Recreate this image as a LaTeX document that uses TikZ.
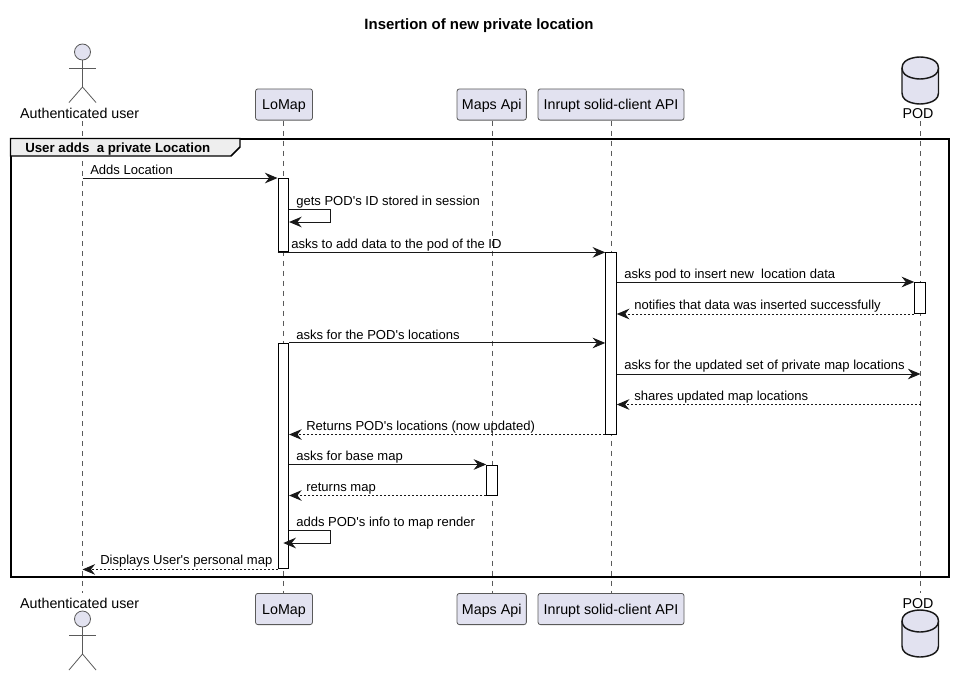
\documentclass[tikz,border=0pt]{standalone}
\usepackage{fontspec}
\setmainfont{Liberation Sans}
\newfontfamily\plainsans{Liberation Sans}
\usetikzlibrary{arrows.meta,shapes.geometric}
\definecolor{partfill}{HTML}{E2E2F0}
\definecolor{partline}{HTML}{5A5A5A}
\definecolor{inkline}{HTML}{181818}
\definecolor{tabfill}{HTML}{EEEEEE}
\tikzset{
  x=0.75pt,y=-0.75pt,
  part/.style={draw=partline,fill=partfill,rounded corners=1.8pt,line width=0.6pt,minimum height=23.4pt,inner sep=0pt,font=\fontsize{10.7pt}{12pt}\selectfont,text=black,text depth=0pt,text height=7.7pt},
  actorlabel/.style={inner sep=0pt,font=\fontsize{10.7pt}{12pt}\selectfont,text=black,text depth=0pt,text height=7.7pt},
  msg/.style={anchor=west,inner sep=0pt,font=\plainsans\fontsize{9.78pt}{11pt}\selectfont,text=black,text depth=0pt,text height=7pt},
  life/.style={draw=partline,line width=0.45pt,dash pattern=on 3.75pt off 3.75pt},
  act/.style={draw=black,fill=white,line width=0.75pt,inner sep=0pt,minimum width=7.9pt},
  sync/.style={draw=inkline,line width=0.75pt,-{Stealth[length=9.5pt,width=8pt,inset=3.2pt]}},
  reply/.style={sync,dash pattern=on 1.5pt off 1.5pt},
  actorline/.style={draw=partline,line width=0.6pt},
  actorhead/.style={draw=partline,fill=partfill,line width=0.6pt},
  cyl/.style={draw=inkline,fill=partfill,line width=1.1pt},
  framebox/.style={draw=black,line width=1.5pt},
  tabbox/.style={draw=black,fill=tabfill,line width=1.1pt},
}
\begin{document}
\begin{tikzpicture}
\useasboundingbox (0,0) rectangle (954,675);
% title
\node[inner sep=0pt,font=\fontsize{11.2pt}{12pt}\selectfont\bfseries] (title) at (479,25.5) {Insertion of new private location};

% participants
\node[actorlabel] (userT) at (79.7,113) {Authenticated user};
\node[actorlabel] (userB) at (79.7,603) {Authenticated user};
\node[part,minimum width=42.75pt] (lomapT) at (284,104.5) {LoMap};
\node[part,minimum width=42.75pt] (lomapB) at (284,609) {LoMap};
\node[part,minimum width=52pt] (mapsT) at (491.7,104.5) {Maps Api};
\node[part,minimum width=52pt] (mapsB) at (491.7,609) {Maps Api};
\node[part,minimum width=109.5pt] (inruptT) at (611,104.5) {Inrupt solid-client API};
\node[part,minimum width=109.5pt] (inruptB) at (611,609) {Inrupt solid-client API};
\node[actorlabel] (podT) at (918,113) {POD};
\node[actorlabel] (podB) at (918,603) {POD};

% lifelines
\draw[life] (82.5,121) -- (82.5,593);
\draw[life] (lomapT.south -| 283.5,0) -- (lomapB.north -| 283.5,0);
\draw[life] (mapsT.south -| 492,0) -- (mapsB.north -| 492,0);
\draw[life] (inruptT.south -| 611.5,0) -- (inruptB.north -| 611.5,0);
\draw[life] (920.5,121) -- (920.5,593);

% frame
\draw[framebox] (10.5,138.5) rectangle (948.5,577);
\draw[tabbox] (10.5,138.5) -- (240,138.5) -- (240,147) -- (231,156) -- (10.5,156) -- cycle;
\node[anchor=west,inner sep=0pt,font=\fontsize{9.95pt}{11pt}\selectfont\bfseries,text depth=0pt,text height=7pt] (group) at (25,148) {User adds\ \ a private Location};

% actors
\foreach \h/\a/\hh/\f in {52/68/87/102.5,619/635/654/670}{
  \draw[actorhead] (82.5,\h) circle[radius=8];
  \draw[actorline] (82.5,\h+8) -- (82.5,\hh);
  \draw[actorline] (69,\a) -- (96,\a);
  \draw[actorline] (69,\f) -- (82.5,\hh) -- (96,\f);
}
% databases
\foreach \t in {57,610}{
  \draw[cyl] (902,\t+11) .. controls (902,\t) and (920,\t) .. (920,\t) .. controls (920,\t) and (938.5,\t) .. (938.5,\t+11)
    -- (938.5,\t+36) .. controls (938.5,\t+47) and (920,\t+47) .. (920,\t+47) .. controls (920,\t+47) and (902,\t+47) .. (902,\t+36) -- cycle;
  \draw[cyl] (902,\t+11) .. controls (902,\t+22) and (920,\t+22) .. (920,\t+22) .. controls (920,\t+22) and (938.5,\t+22) .. (938.5,\t+11);
}

% activations
\node[act,minimum height=55pt] (actL1) at (283.3,215.2) {};
\node[act,minimum height=169.1pt] (actL2) at (283.3,456.2) {};
\node[act,minimum height=136.5pt] (actI) at (611,343) {};
\node[act,minimum height=23.25pt] (actP) at (920,298) {};
\node[act,minimum height=22.5pt] (actM) at (492,480) {};

% message end points
\coordinate (m1a) at (actL1.north -| 82.5,0);
\coordinate (m2a) at (actL1.east |- 0,209);
\coordinate (m2b) at (330,209);
\coordinate (m2c) at (330,222);
\coordinate (m2d) at (actL1.east |- 0,222);
\coordinate (m7a) at (actI.east |- 0,374);
\coordinate (m7b) at (920.5,374);
\coordinate (m8a) at (920.5,404.5);
\coordinate (m8b) at (actI.east |- 0,404.5);
\coordinate (m12a) at (actL2.east |- 0,530);
\coordinate (m12b) at (330,530);
\coordinate (m12c) at (330,543);
\coordinate (m12d) at (actL2.center |- 0,543);
\coordinate (m13b) at (actL2.south -| 82.5,0);

% messages
\draw[sync] (m1a) -- (actL1.north west);
\node[msg] (t1) at (90,169.5) {Adds Location};
\draw[sync] (m2a) -- (m2b) -- (m2c) -- (m2d);
\node[msg] (t2) at (296,200.5) {gets POD's ID stored in session};
\draw[sync] (actL1.south west) -- (actI.west |- actL1.south);
\node[msg] (t3) at (291,243.5) {asks to add data to the pod of the ID};
\draw[sync] (actI.east |- actP.north) -- (actP.north west);
\node[msg] (t4) at (624,273.5) {asks pod to insert new\ \ location data};
\draw[reply] (actP.south west) -- (actI.east |- actP.south);
\node[msg] (t5) at (634,304.5) {notifies that data was inserted successfully};
\draw[sync] (actL2.north east) -- (actI.west |- actL2.north);
\node[msg] (t6) at (296,334.5) {asks for the POD's locations};
\draw[sync] (m7a) -- (m7b);
\node[msg] (t7) at (624,365) {asks for the updated set of private map locations};
\draw[reply] (m8a) -- (m8b);
\node[msg] (t8) at (634,395.5) {shares updated map locations};
\draw[reply] (actI.south west) -- (actL2.east |- actI.south);
\node[msg] (t9) at (306,425.5) {Returns POD's locations (now updated)};
\draw[sync] (actL2.east |- actM.north) -- (actM.north west);
\node[msg] (t10) at (296,456) {asks for base map};
\draw[reply] (actM.south west) -- (actL2.east |- actM.south);
\node[msg] (t11) at (306,487) {returns map};
\draw[sync] (m12a) -- (m12b) -- (m12c) -- (m12d);
\node[msg] (t12) at (296,521.5) {adds POD's info to map render};
\draw[reply] (actL2.south west) -- (m13b);
\node[msg] (t13) at (100,560) {Displays User's personal map};
\end{tikzpicture}
\end{document}
